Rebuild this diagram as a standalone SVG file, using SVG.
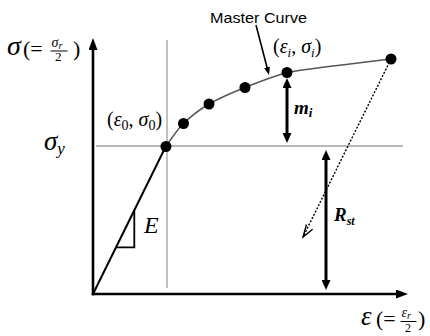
<svg xmlns="http://www.w3.org/2000/svg" width="430" height="336" viewBox="0 0 430 336">
<defs>
<style>
.ser{font-family:"Liberation Serif","Times New Roman",serif;fill:#000}
.it{font-style:italic}
.sans{font-family:"Liberation Sans",Arial,sans-serif;fill:#000}
.guide{stroke:#a0a0a0;stroke-width:1.3;fill:none}
.axis{stroke:#000;stroke-width:2.6;fill:none}
.dot{fill:#000}
.dim{stroke:#000;stroke-width:3;fill:none}
</style>
<marker id="axh" markerUnits="userSpaceOnUse" markerWidth="12" markerHeight="9" refX="2" refY="4.5" orient="auto"><path d="M0,0 L12,4.5 L0,9 z" fill="#000"/></marker>
<marker id="dh" markerUnits="userSpaceOnUse" markerWidth="10" markerHeight="9" refX="3" refY="4.5" orient="auto-start-reverse"><path d="M0,0 L10,4.5 L0,9 z" fill="#000"/></marker>
<marker id="sh" markerUnits="userSpaceOnUse" markerWidth="8" markerHeight="6" refX="2" refY="3" orient="auto"><path d="M0,0 L8,3 L0,6 z" fill="#000"/></marker>
</defs>
<rect width="430" height="336" fill="#fff"/>
<g id="guides">
<line class="guide" x1="96" y1="146" x2="403" y2="146"/>
<line class="guide" x1="167" y1="40" x2="167" y2="288"/>
</g>
<g id="axes">
<line class="axis" x1="93" y1="295.3" x2="93" y2="48" marker-end="url(#axh)"/>
<line class="axis" x1="91.7" y1="294" x2="398" y2="294" marker-end="url(#axh)"/>
</g>
<g id="connectors">
<line x1="93" y1="294" x2="166" y2="146" stroke="#000" stroke-width="2"/>
<path d="M116.2,247.3 H134.3 V210.7" fill="none" stroke="#000" stroke-width="1.8"/>
<path id="master-curve" d="M166,146 C171.8,138.5 176.3,130.5 183.5,123.5 C190.7,116.5 198.75,110 209,104 C219.25,98 232,92.75 245,87.5 C258,82.25 273,76.5 287,72.5 C311.3,67.75 356.3,63.5 391,59" fill="none" stroke="#555" stroke-width="1.5"/>
<line x1="256" y1="25" x2="267.5" y2="69.2" stroke="#000" stroke-width="1.6" marker-end="url(#sh)"/>
<line class="dim" x1="287" y1="85" x2="287" y2="136" marker-start="url(#dh)" marker-end="url(#dh)"/>
<line class="dim" x1="326" y1="157" x2="326" y2="283" marker-start="url(#dh)" marker-end="url(#dh)"/>
<line x1="391" y1="59" x2="303" y2="237" stroke="#000" stroke-width="1.4" stroke-dasharray="2,1.6"/>
<path d="M306.5,224.5 L303,237 L312.6,229.2" fill="none" stroke="#000" stroke-width="1.4"/>
</g>
<g id="point-0"><circle class="dot" cx="166" cy="146.5" r="5.5"/></g>
<g id="point-1"><circle class="dot" cx="183.5" cy="123.5" r="5.5"/></g>
<g id="point-2"><circle class="dot" cx="209" cy="104" r="5.5"/></g>
<g id="point-3"><circle class="dot" cx="245" cy="87.5" r="5.5"/></g>
<g id="point-i"><circle class="dot" cx="287" cy="72.5" r="5.5"/></g>
<g id="point-end"><circle class="dot" cx="391" cy="59" r="5.5"/></g>
<g id="labels">
<text class="sans" x="210" y="22.5" font-size="15" textLength="97" lengthAdjust="spacingAndGlyphs">Master Curve</text>
<text class="ser" x="7" y="55" font-size="28"><tspan class="it">σ</tspan></text>
<text class="ser" x="23" y="56" font-size="22">(=</text>
<text class="ser it" x="51.5" y="47" font-size="14">σ<tspan font-size="10" dy="1.5">r</tspan></text>
<line x1="50.5" y1="51" x2="67.5" y2="51" stroke="#000" stroke-width="1"/>
<text class="ser" x="55" y="61" font-size="13">2</text>
<text class="ser" x="73" y="56" font-size="22">)</text>
<text class="ser" x="44" y="150" font-size="27"><tspan class="it">σ</tspan><tspan class="it" font-size="17" dy="4">y</tspan></text>
<text class="ser" x="107" y="126" font-size="20">(<tspan class="it">ε</tspan><tspan font-size="14" dy="4">0</tspan><tspan dy="-4">, </tspan><tspan class="it">σ</tspan><tspan font-size="14" dy="4">0</tspan><tspan dy="-4">)</tspan></text>
<text class="ser" x="273" y="53" font-size="20">(<tspan class="it">ε</tspan><tspan class="it" font-size="13" dy="4">i</tspan><tspan dy="-4">, </tspan><tspan class="it">σ</tspan><tspan class="it" font-size="13" dy="4">i</tspan><tspan dy="-4">)</tspan></text>
<text class="ser it" x="294" y="114" font-size="19" font-weight="bold">m<tspan font-size="13" dy="3">i</tspan></text>
<text class="ser it" x="334" y="221" font-size="19" font-weight="bold">R<tspan font-size="12" dy="4">st</tspan></text>
<text class="ser it" x="144" y="233" font-size="24">E</text>
<text class="ser it" x="361" y="325" font-size="27">ε</text>
<text class="ser" x="376" y="326" font-size="22">(=</text>
<text class="ser it" x="401.5" y="317" font-size="14">ε<tspan font-size="10" dy="1.5">r</tspan></text>
<line x1="400.5" y1="321.5" x2="416.5" y2="321.5" stroke="#000" stroke-width="1"/>
<text class="ser" x="405" y="331.5" font-size="12">2</text>
<text class="ser" x="418" y="326" font-size="22">)</text>
</g>
</svg>
